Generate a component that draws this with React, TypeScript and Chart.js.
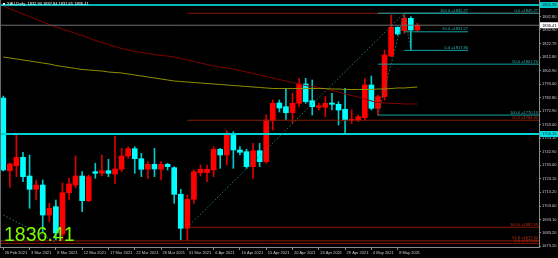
import React, { useEffect, useRef } from 'react';
import { Chart, registerables } from 'chart.js';

Chart.register(...registerables);

const symbolTitle = 'XAU,Daily';

const dateLabels = ['26 Feb 2021', '3 Mar 2021', '8 Mar 2021', '12 Mar 2021', '17 Mar 2021', '22 Mar 2021', '26 Mar 2021', '31 Mar 2021', '6 Apr 2021', '10 Apr 2021', '15 Apr 2021', '20 Apr 2021', '24 Apr 2021', '29 Apr 2021', '4 May 2021', '8 May 2021'];
const labelEvery = 4;
const visibleSlots = 82;

const opens = [1782.72, 1729.06, 1732.75, 1738.95, 1725.15, 1715.34, 1718.51, 1696.37, 1702.5, 1682.35,
  1712.83, 1718.51, 1725.15, 1706.92, 1728.33, 1727.14, 1729.06, 1726.63, 1730.1, 1739.91,
  1745.3, 1737.92, 1730.1, 1733.79, 1730.1, 1733.79, 1731.28, 1711.65, 1686.55, 1707.96,
  1727.59, 1727.59, 1729.58, 1744.86, 1740.65, 1756.15, 1744.34, 1743.09, 1732.02, 1743.82,
  1735.71, 1765.96, 1779.03, 1776.3, 1771.87, 1778.8, 1793.05, 1780.72, 1775.85, 1775.85,
  1779.03, 1778.07, 1774.38, 1766.26, 1766.48, 1768.18, 1792.31, 1775.11, 1783.68, 1813.71,
  1834.89, 1832.38, 1841.53, 1832.9];
const highs = [1784.19, 1734.75, 1755.41, 1742.64, 1740.65, 1722.2, 1722.2, 1705.0, 1707.44, 1719.99,
  1723.45, 1739.91, 1728.33, 1725.89, 1734.52, 1740.65, 1737.48, 1754.67, 1745.59, 1746.78,
  1746.78, 1741.9, 1735.71, 1745.59, 1735.71, 1734.52, 1732.02, 1715.34, 1711.13, 1729.58,
  1733.27, 1733.27, 1746.78, 1745.59, 1758.58, 1757.85, 1746.78, 1744.86, 1749.28, 1749.28,
  1770.17, 1781.24, 1781.24, 1789.87, 1786.41, 1797.25, 1797.25, 1796.0, 1778.8, 1783.68,
  1786.18, 1779.99, 1789.87, 1773.86, 1770.17, 1797.25, 1798.95, 1784.93, 1818.14, 1843.97,
  1835.34, 1845.27, 1842.72, 1837.84];
const lows = [1728.84, 1716.81, 1724.64, 1720.95, 1701.31, 1707.44, 1684.05, 1691.43, 1677.92, 1678.3,
  1707.44, 1716.3, 1698.81, 1706.19, 1723.45, 1725.15, 1724.64, 1719.76, 1728.33, 1738.21,
  1727.14, 1724.64, 1723.45, 1724.64, 1722.2, 1729.58, 1705.0, 1678.2, 1677.6, 1705.0,
  1725.15, 1720.95, 1724.64, 1730.83, 1733.27, 1730.83, 1740.65, 1730.83, 1723.45, 1732.02,
  1734.52, 1759.1, 1772.38, 1766.48, 1764.27, 1776.3, 1778.8, 1770.17, 1773.86, 1768.92,
  1773.86, 1762.79, 1756.66, 1764.04, 1765.23, 1766.48, 1773.86, 1770.13, 1781.24, 1813.2,
  1829.21, 1830.46, 1817.86, 1831.65];
const closes = [1729.58, 1734.01, 1738.95, 1724.64, 1715.34, 1718.51, 1696.37, 1701.31, 1683.09, 1712.83,
  1719.25, 1725.15, 1706.92, 1724.64, 1727.14, 1729.06, 1727.14, 1730.32, 1739.91, 1745.3,
  1737.92, 1730.1, 1733.79, 1730.32, 1733.79, 1732.02, 1711.65, 1686.55, 1707.96, 1728.33,
  1730.1, 1730.1, 1744.86, 1740.65, 1755.41, 1744.34, 1742.64, 1732.02, 1743.82, 1735.71,
  1766.48, 1778.8, 1775.34, 1771.87, 1778.8, 1793.05, 1780.0, 1776.3, 1777.03, 1778.8,
  1778.07, 1773.86, 1766.48, 1767.0, 1768.92, 1792.31, 1775.11, 1783.68, 1814.45, 1834.89,
  1829.95, 1841.53, 1832.9, 1836.41];

const maRed = [1850.61, 1848.55, 1846.63, 1844.71, 1842.79, 1840.87, 1838.8, 1836.96, 1835.11, 1833.64,
  1832.16, 1830.32, 1828.84, 1827.0, 1825.15, 1823.67, 1822.2, 1820.72, 1819.25, 1818.14,
  1817.03, 1816.3, 1815.56, 1814.82, 1814.08, 1813.71, 1812.97, 1811.87, 1810.76, 1809.65,
  1808.55, 1807.44, 1806.33, 1805.59, 1804.86, 1804.12, 1803.01, 1801.9, 1800.8, 1799.69,
  1798.58, 1797.48, 1796.37, 1795.26, 1794.15, 1793.05, 1791.94, 1791.2, 1790.47, 1789.36,
  1788.25, 1787.14, 1785.67, 1784.56, 1783.43, 1781.98, 1780.5, 1779.4, 1779.03, 1778.66,
  1778.66, 1778.29, 1778.29, 1778.29];
const maOlive = [1812.97, 1812.24, 1811.5, 1810.76, 1810.02, 1809.28, 1808.55, 1807.81, 1806.7, 1805.96,
  1805.22, 1804.49, 1803.75, 1803.38, 1803.01, 1802.64, 1801.9, 1801.53, 1801.17, 1800.43,
  1799.69, 1798.95, 1798.21, 1797.48, 1796.74, 1796.0, 1795.26, 1794.89, 1794.52, 1794.15,
  1793.79, 1793.42, 1793.05, 1792.68, 1792.31, 1791.94, 1791.57, 1791.2, 1790.83, 1790.47,
  1790.1, 1789.73, 1789.73, 1789.73, 1789.73, 1789.73, 1789.73, 1789.73, 1789.73, 1789.73,
  1789.36, 1789.36, 1788.99, 1788.99, 1788.99, 1788.99, 1788.99, 1789.36, 1789.36, 1789.73,
  1790.1, 1790.1, 1790.47, 1790.83];

const priceTicks = [1842.80, 1832.90, 1822.79, 1812.80, 1802.90, 1793.00, 1782.80, 1772.90, 1763.00, 1753.10, 1742.90, 1733.00, 1723.10, 1713.20, 1703.00, 1693.10, 1683.20, 1673.20];
const priceMin = 1672.75;
const priceMax = 1855.04;

const cyanLineTop = 1851.35;
const cyanLineMid = 1756.15;

const fibRedAnchors = [28, 61];
const fibRedLevels = [1845.27, 1766.30, 1687.33];
const fibRedPercents = ['0.0', '50.0', '100.0'];

const fibAAnchors = [57, 61];
const fibALevels = [1845.27, 1807.70, 1770.13];
const fibAPercents = ['0.0', '50.0', '100.0'];

const fibBAnchors = [61, 62];
const fibBEndBar = 70.7;
const fibBLevels = [1845.27, 1831.57, 1817.86];
const fibBPercents = ['100.0', '50.0', '0.0'];

const oldFibLevels = [1677.3, 1675.4];
const oldFibPercents = ['61.8', '0.0'];
const oldTrend = [[0, 1696.3], [8, 1676.18]];

const N = opens.length;
const categories = Array.from({ length: visibleSlots }, (_, i) =>
  i % labelEvery === 0 && i / labelEvery < dateLabels.length ? dateLabels[i / labelEvery] : '');
const isBull = opens.map((o, i) => closes[i] >= o);
const bodies = opens.map((o, i) => [Math.min(o, closes[i]), Math.max(o, closes[i])]);
const wicks = lows.map((l, i) => [l, highs[i]]);

const FONT = '"Liberation Sans", Arial, sans-serif';

const overlayPlugin = {
  id: 'mt4Overlay',
  afterDatasetsDraw(chart: any) {
    const { ctx, chartArea: a } = chart;
    const X = (i: number) => chart.scales.x.getPixelForValue(i);
    const Y = (p: number) => chart.scales.y.getPixelForValue(p);
    ctx.save();
    ctx.beginPath();
    ctx.rect(a.left, a.top, a.right - a.left, a.bottom - a.top);
    ctx.clip();

    const hline = (p: number, x0: number, x1: number, color: string, w: number) => {
      ctx.strokeStyle = color;
      ctx.lineWidth = w;
      ctx.setLineDash([]);
      ctx.beginPath();
      ctx.moveTo(x0, Y(p));
      ctx.lineTo(x1, Y(p));
      ctx.stroke();
    };
    const tag = (text: string, xr: number, p: number, color: string) => {
      ctx.font = `4px ${FONT}`;
      ctx.fillStyle = color;
      ctx.textAlign = 'right';
      ctx.textBaseline = 'bottom';
      ctx.fillText(text, xr, Y(p) - 0.5);
    };
    const dotted = (i0: number, p0: number, i1: number, p1: number) => {
      ctx.strokeStyle = '#2a7a58';
      ctx.lineWidth = 1;
      ctx.setLineDash([1.5, 2]);
      ctx.beginPath();
      ctx.moveTo(X(i0), Y(p0));
      ctx.lineTo(X(i1), Y(p1));
      ctx.stroke();
    };

    const redLine = '#8a1a05';
    const redText = '#c8300f';
    const tealLine = '#14a0a0';
    const tealText = '#30b8b8';

    oldFibLevels.forEach((v, k) => {
      hline(v, a.left, a.right, redLine, 1);
      tag(`${oldFibPercents[k]} =${v.toFixed(2)}`, a.right - 1, v, redText);
    });
    fibRedLevels.forEach((v, k) => {
      hline(v, X(fibRedAnchors[0]), a.right, redLine, 1);
      if (k > 0) tag(`${fibRedPercents[k]} =${v.toFixed(2)}`, a.right - 1, v, redText);
    });
    fibALevels.forEach((v, k) => {
      hline(v, X(fibAAnchors[0]), a.right, tealLine, 1);
      tag(`${fibAPercents[k]} =${v.toFixed(2)}`, a.right - 1, v, tealText);
    });
    fibBLevels.forEach((v, k) => {
      hline(v, X(fibBAnchors[0]), X(fibBEndBar), tealLine, 1);
      tag(`${fibBPercents[k]} =${v.toFixed(2)}`, X(fibBEndBar), v, tealText);
    });

    hline(cyanLineTop, a.left, a.right, '#00b8b8', 2);
    hline(cyanLineMid, a.left, a.right, '#00d4d4', 2);
    hline(closes[N - 1], a.left, a.right, '#6e6e6e', 1);

    dotted(fibRedAnchors[0], fibRedLevels[2], fibRedAnchors[1], fibRedLevels[0]);
    dotted(fibAAnchors[0], fibALevels[2], fibAAnchors[1], fibALevels[0]);
    dotted(fibBAnchors[0], fibBLevels[0], fibBAnchors[1], fibBLevels[2]);
    dotted(oldTrend[0][0], oldTrend[0][1], oldTrend[1][0], oldTrend[1][1]);

    ctx.restore();
  },
  afterDraw(chart: any) {
    const { ctx, chartArea: a } = chart;
    const Y = (p: number) => chart.scales.y.getPixelForValue(p);
    ctx.save();
    const box = (p: number, bg: string, fg: string) => {
      const y = Y(p);
      ctx.fillStyle = bg;
      ctx.fillRect(a.right + 1, y - 3, chart.width - a.right - 1, 6);
      ctx.fillStyle = fg;
      ctx.font = `4px ${FONT}`;
      ctx.textAlign = 'left';
      ctx.textBaseline = 'middle';
      ctx.fillText(p.toFixed(2), a.right + 3, y + 0.3);
    };
    box(cyanLineTop, '#00c8c8', '#003030');
    box(cyanLineMid, '#00e0e0', '#003030');
    box(closes[N - 1], '#ffffff', '#000000');

    // left border
    ctx.strokeStyle = '#6a6a6a';
    ctx.lineWidth = 1;
    ctx.beginPath();
    ctx.moveTo(a.left + 0.5, a.top);
    ctx.lineTo(a.left + 0.5, a.bottom);
    ctx.stroke();

    // title
    ctx.fillStyle = '#ffffff';
    ctx.fillRect(a.left + 3, a.top + 3, 2, 2);
    ctx.font = `4px ${FONT}`;
    ctx.textAlign = 'left';
    ctx.textBaseline = 'top';
    const last = N - 1;
    ctx.fillText(`${symbolTitle}  ${opens[last].toFixed(2)} ${highs[last].toFixed(2)} ${lows[last].toFixed(2)} ${closes[last].toFixed(2)}`, a.left + 7, a.top + 2);

    // big price
    ctx.fillStyle = '#7cfc00';
    ctx.font = `19.5px ${FONT}`;
    ctx.textBaseline = 'alphabetic';
    ctx.fillText(closes[last].toFixed(2), a.left + 4, 241);
    ctx.restore();
  },
};

export default function App() {
  const ref = useRef<HTMLCanvasElement | null>(null);
  useEffect(() => {
    document.body.style.margin = '0';
    document.body.style.background = '#000';
    if (!ref.current) return;
    const chart = new Chart(ref.current, {
      type: 'bar',
      data: {
        labels: categories,
        datasets: [
          { type: 'line', data: maOlive, borderColor: '#8f8f00', borderWidth: 1, pointRadius: 0, tension: 0, order: 0 } as any,
          { type: 'line', data: maRed, borderColor: '#800000', borderWidth: 1, pointRadius: 0, tension: 0, order: 1 } as any,
          { type: 'bar', data: bodies, backgroundColor: isBull.map((b) => (b ? '#ff0000' : '#00ffff')), barThickness: 5, grouped: false, minBarLength: 1, borderWidth: 0, order: 2 } as any,
          { type: 'bar', data: wicks, backgroundColor: isBull.map((b) => (b ? '#d80000' : '#00c8c8')), barThickness: 1, grouped: false, borderWidth: 0, order: 3 } as any,
        ],
      },
      options: {
        responsive: false,
        animation: false,
        devicePixelRatio: 1,
        events: [],
        layout: { padding: 0 },
        plugins: { legend: { display: false }, tooltip: { enabled: false } },
        scales: {
          x: {
            type: 'category',
            offset: true,
            grid: { display: true, drawOnChartArea: false, drawTicks: true, tickLength: 3, color: '#8c8c8c', offset: false },
            border: { display: true, color: '#8c8c8c' },
            ticks: { autoSkip: false, maxRotation: 0, minRotation: 0, align: 'start', labelOffset: 1.5, padding: 0, color: '#c8c8c8', font: { size: 4, family: FONT } },
            afterBuildTicks: (s: any) => { s.ticks = s.ticks.filter((t: any) => categories[t.value] !== ''); },
            afterFit: (s: any) => { s.height = 11; s.paddingLeft = 0; s.paddingRight = 0; },
          },
          y: {
            type: 'linear',
            position: 'right',
            min: priceMin,
            max: priceMax,
            beginAtZero: false,
            grid: { display: true, drawOnChartArea: false, drawTicks: true, tickLength: 2, color: '#8c8c8c' },
            border: { display: true, color: '#8c8c8c' },
            ticks: { padding: 1, color: '#c8c8c8', font: { size: 4, family: FONT }, callback: (v: any) => Number(v).toFixed(2) },
            afterBuildTicks: (s: any) => { s.ticks = priceTicks.map((v) => ({ value: v })); },
            afterFit: (s: any) => { s.width = 19; s.paddingTop = 0; s.paddingBottom = 0; },
          },
        },
      } as any,
      plugins: [overlayPlugin],
    });
    return () => chart.destroy();
  }, []);
  return (
    <div style={{ width: 558, height: 258, background: '#000' }}>
      <canvas ref={ref} width={558} height={258} style={{ display: 'block' }} />
    </div>
  );
}
